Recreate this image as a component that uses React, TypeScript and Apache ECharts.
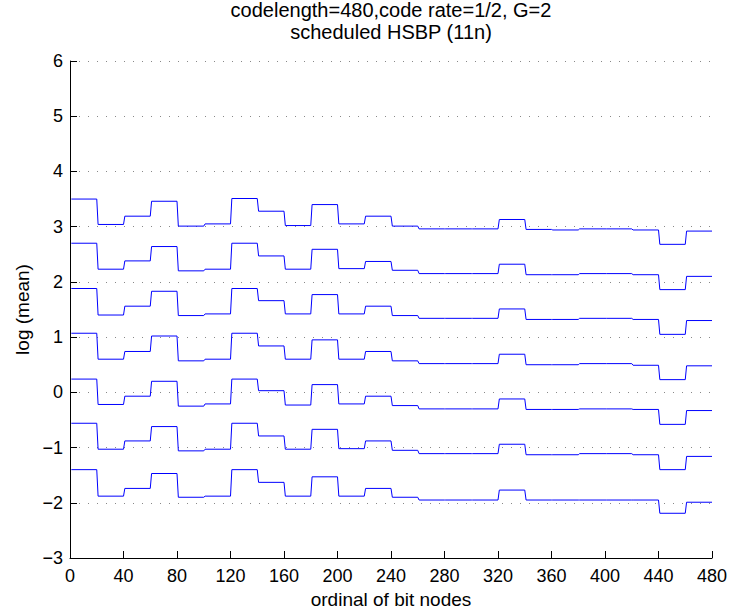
import React, { useEffect, useRef } from "react";
import * as echarts from "echarts";

// Each curve is piecewise constant over 24 blocks of 20 bit nodes.
const BLOCK = 20;
const xTicks = [0, 40, 80, 120, 160, 200, 240, 280, 320, 360, 400, 440, 480];
const yTicks = [-3, -2, -1, 0, 1, 2, 3, 4, 5, 6];

const curve1 = [3.50, 3.04, 3.19, 3.46, 3.01, 3.05, 3.51, 3.28, 3.02, 3.40, 3.05, 3.19, 3.01, 2.96, 2.96, 2.96, 3.13, 2.95, 2.94, 2.96, 2.96, 2.94, 2.68, 2.92];
const curve2 = [2.70, 2.23, 2.38, 2.64, 2.20, 2.23, 2.70, 2.47, 2.23, 2.59, 2.24, 2.37, 2.21, 2.15, 2.15, 2.15, 2.32, 2.13, 2.13, 2.15, 2.15, 2.13, 1.86, 2.10];
const curve3 = [1.88, 1.40, 1.56, 1.83, 1.39, 1.42, 1.88, 1.66, 1.42, 1.77, 1.42, 1.56, 1.39, 1.34, 1.34, 1.34, 1.51, 1.32, 1.32, 1.34, 1.34, 1.32, 1.05, 1.30];
const curve4 = [1.07, 0.60, 0.74, 1.02, 0.57, 0.60, 1.07, 0.84, 0.60, 0.95, 0.60, 0.74, 0.57, 0.52, 0.52, 0.52, 0.69, 0.50, 0.50, 0.52, 0.52, 0.49, 0.23, 0.48];
const curve5 = [0.24, -0.22, -0.07, 0.20, -0.25, -0.21, 0.24, 0.03, -0.23, 0.14, -0.21, -0.07, -0.24, -0.30, -0.30, -0.30, -0.12, -0.31, -0.31, -0.30, -0.30, -0.31, -0.58, -0.33];
const curve6 = [-0.56, -1.03, -0.88, -0.62, -1.06, -1.03, -0.56, -0.79, -1.03, -0.67, -1.02, -0.88, -1.05, -1.11, -1.11, -1.11, -0.94, -1.13, -1.13, -1.11, -1.11, -1.13, -1.40, -1.16];
const curve7 = [-1.40, -1.88, -1.74, -1.47, -1.90, -1.88, -1.40, -1.63, -1.88, -1.53, -1.88, -1.74, -1.90, -1.95, -1.95, -1.95, -1.77, -1.95, -1.95, -1.95, -1.95, -1.95, -2.19, -1.99];

const curves = [curve1, curve2, curve3, curve4, curve5, curve6, curve7];

// Expand block values to points at the first and last node of every block.
function toPoints(blocks: number[]): [number, number][] {
  const pts: [number, number][] = [];
  blocks.forEach((v, i) => {
    pts.push([i * BLOCK + 1, v]);
    pts.push([(i + 1) * BLOCK, v]);
  });
  return pts;
}

const FONT = "'Liberation Sans', Arial, Helvetica, sans-serif";
const fmt = (v: number) => (v < 0 ? "\u2212" + Math.abs(v) : String(v));

export default function App() {
  const ref = useRef<HTMLDivElement>(null);

  useEffect(() => {
    if (!ref.current) return;
    const chart = echarts.init(ref.current, undefined, { renderer: "svg" });
    chart.setOption({
      animation: false,
      backgroundColor: "#ffffff",
      title: {
        text: "codelength=480,code rate=1/2, G=2\nscheduled HSBP (11n)",
        left: 391,
        top: -1,
        textAlign: "center",
        padding: 0,
        textStyle: {
          fontFamily: FONT,
          fontSize: 20,
          fontWeight: "normal",
          color: "#000",
          lineHeight: 22,
        },
      },
      grid: { left: 70, right: 20, top: 61, bottom: 56, containLabel: false },
      xAxis: {
        type: "value",
        min: xTicks[0],
        max: xTicks[xTicks.length - 1],
        interval: 40,
        name: "ordinal of bit nodes",
        nameLocation: "middle",
        nameGap: 24,
        nameTextStyle: { fontFamily: FONT, fontSize: 19, color: "#000" },
        axisLine: { show: true, onZero: false, lineStyle: { color: "#000", width: 1 } },
        axisTick: { show: true, inside: true, length: 7, lineStyle: { color: "#000" } },
        axisLabel: { fontFamily: FONT, fontSize: 18, color: "#000", margin: 9 },
        splitLine: { show: false },
      },
      yAxis: {
        type: "value",
        min: yTicks[0],
        max: yTicks[yTicks.length - 1],
        interval: 1,
        name: "log (mean)",
        nameLocation: "middle",
        nameRotate: 90,
        nameGap: 38,
        nameTextStyle: { fontFamily: FONT, fontSize: 19, color: "#000" },
        axisLine: { show: true, onZero: false, lineStyle: { color: "#000", width: 1 } },
        axisTick: { show: true, inside: true, length: 7, lineStyle: { color: "#000" } },
        axisLabel: { fontFamily: FONT, fontSize: 18, color: "#000", margin: 7, formatter: fmt },
        splitLine: {
          show: true,
          lineStyle: { color: "#888", width: 1, type: [1, 8] },
        },
      },
      series: curves.map((c) => ({
        type: "line",
        data: toPoints(c),
        showSymbol: false,
        symbol: "none",
        color: "#0000ff",
        lineStyle: { color: "#0000ff", width: 1 },
      })),
    });
    return () => chart.dispose();
  }, []);

  return (
    <div
      ref={ref}
      style={{ position: "fixed", left: 0, top: 0, width: 732, height: 614, background: "#fff" }}
    />
  );
}
